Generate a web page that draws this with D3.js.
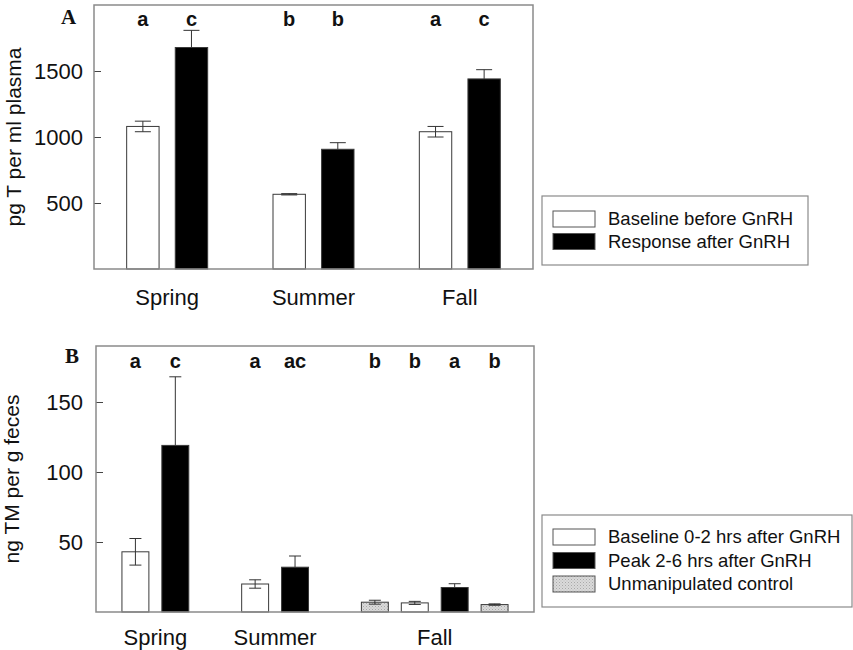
<!DOCTYPE html>
<html>
<head>
<meta charset="utf-8">
<script src="https://cdn.jsdelivr.net/npm/d3@7"></script>
<style>
    body { margin: 0; background: #fff; }
    text { font-family: "Liberation Sans", Arial, sans-serif; fill: #111; }
</style>
</head>
<body>
<svg id="chart" width="853" height="650"></svg>
<script>
// panel A - plasma T
var seasons = ['Spring', 'Summer', 'Fall'];
var baselineA = [1080, 566, 1040];
var baselineErrA = [40, 5, 40];
var responseA = [1678, 907, 1440];
var responseErrA = [130, 50, 70];
var lettersA = [['a', 'c'], ['b', 'b'], ['a', 'c']];
var ticksA = [500, 1000, 1500];
var legendA = ['Baseline before GnRH', 'Response after GnRH'];

// panel B - fecal TM
var barSeasonB = ['Spring', 'Spring', 'Summer', 'Summer', 'Fall', 'Fall', 'Fall', 'Fall'];
var barTypeB = ['baseline', 'peak', 'baseline', 'peak', 'control', 'baseline', 'peak', 'control'];
var valuesB = [43, 119, 20, 32, 7, 6.5, 17.5, 5.3];
var errorsB = [9.5, 49, 3, 8, 1.4, 1.1, 2.7, 0.5];
var lettersB = ['a', 'c', 'a', 'ac', 'b', 'b', 'a', 'b'];
var ticksB = [50, 100, 150];
var legendB = ['Baseline 0-2 hrs after GnRH', 'Peak 2-6 hrs after GnRH', 'Unmanipulated control'];

var svg = d3.select('#chart');

var defs = svg.append('defs');
var stipple = defs.append('pattern')
    .attr('id', 'stipple')
    .attr('width', 3)
    .attr('height', 3)
    .attr('patternUnits', 'userSpaceOnUse');
stipple.append('rect').attr('width', 3).attr('height', 3).attr('fill', '#dadada');
stipple.append('rect').attr('x', 0).attr('y', 0).attr('width', 1).attr('height', 1).attr('fill', '#a9a9a9');
stipple.append('rect').attr('x', 1.5).attr('y', 1.5).attr('width', 1).attr('height', 1).attr('fill', '#bdbdbd');

var fills = {
    baseline: '#ffffff',
    response: '#000000',
    peak: '#000000',
    control: 'url(#stipple)'
};
var isDark = function(type) { return type === 'response' || type === 'peak'; };

var drawBars = function(g, bars, y, capWidth)
{
    var bar = g.selectAll('.bar').data(bars).enter()
        .append('g')
        .classed('bar', true);

    bar.append('rect')
        .attr('x', function(d) { return d.x; })
        .attr('width', function(d) { return d.width; })
        .attr('y', function(d) { return y(d.value); })
        .attr('height', function(d) { return y(0) - y(d.value); })
        .attr('fill', function(d) { return fills[d.type]; })
        .attr('stroke', '#3a3a3a')
        .attr('stroke-width', 1);

    // error bars, the lower half disappears inside the black bars
    bar.append('line')
        .attr('x1', function(d) { return d.x + d.width / 2; })
        .attr('x2', function(d) { return d.x + d.width / 2; })
        .attr('y1', function(d) { return y(isDark(d.type) ? d.value : d.value - d.err); })
        .attr('y2', function(d) { return y(d.value + d.err); })
        .attr('stroke', '#333')
        .attr('stroke-width', 1);

    [1, -1].forEach(function(sign)
    {
        bar.filter(function(d) { return sign > 0 || !isDark(d.type); })
            .append('line')
            .attr('x1', function(d) { return d.x + d.width / 2 - capWidth / 2; })
            .attr('x2', function(d) { return d.x + d.width / 2 + capWidth / 2; })
            .attr('y1', function(d) { return y(d.value + sign * d.err); })
            .attr('y2', function(d) { return y(d.value + sign * d.err); })
            .attr('stroke', '#333')
            .attr('stroke-width', 1);
    });
};

var drawLetters = function(g, bars, baseline)
{
    g.selectAll('.letter').data(bars).enter()
        .append('text')
        .classed('letter', true)
        .attr('x', function(d) { return d.x + d.width / 2; })
        .attr('y', baseline)
        .attr('text-anchor', 'middle')
        .attr('font-size', '20px')
        .attr('font-weight', 'bold')
        .text(function(d) { return d.letter; });
};

var drawAxis = function(g, y, ticks, left, padding)
{
    var axis = g.append('g')
        .attr('transform', 'translate(' + left + ',0)')
        .call(d3.axisLeft(y).tickValues(ticks).tickFormat(d3.format('d')).tickSize(-7).tickPadding(padding));

    axis.select('.domain').remove();
    axis.selectAll('line').attr('stroke', '#444');
    axis.selectAll('text')
        .attr('font-size', '22px')
        .style('font-family', '"Liberation Sans", Arial, sans-serif')
        .attr('fill', '#111');
};

var drawFrame = function(g, frame)
{
    g.append('rect')
        .attr('x', frame.left)
        .attr('y', frame.top)
        .attr('width', frame.right - frame.left)
        .attr('height', frame.bottom - frame.top)
        .attr('fill', 'none')
        .attr('stroke', '#8a8a8a')
        .attr('stroke-width', 1.5);
};

var drawLegend = function(g, box, labels, types)
{
    g.append('rect')
        .attr('x', box.x)
        .attr('y', box.y)
        .attr('width', box.w)
        .attr('height', box.h)
        .attr('fill', '#fff')
        .attr('stroke', '#8a8a8a')
        .attr('stroke-width', 1.2);

    var item = g.selectAll('.legend-item').data(labels).enter()
        .append('g')
        .classed('legend-item', true)
        .attr('transform', function(d, i) { return 'translate(' + (box.x + 11) + ',' + (box.first + i * box.step) + ')'; });

    item.append('rect')
        .attr('width', 42)
        .attr('height', 16)
        .attr('fill', function(d, i) { return fills[types[i]]; })
        .attr('stroke', '#555')
        .attr('stroke-width', 1);

    item.append('text')
        .attr('x', 55)
        .attr('y', 14)
        .attr('font-size', '18.5px')
        .text(function(d) { return d; });
};

var drawTitle = function(g, text, x, y)
{
    g.append('text')
        .attr('transform', 'translate(' + x + ',' + y + ') rotate(-90)')
        .attr('text-anchor', 'middle')
        .attr('font-size', '21px')
        .text(text);
};

var drawPanelLabel = function(g, text, x, y)
{
    g.append('text')
        .attr('x', x)
        .attr('y', y)
        .style('font-family', '"Liberation Serif", "Times New Roman", serif')
        .attr('font-weight', 'bold')
        .attr('font-size', '21px')
        .text(text);
};

// ---------- panel A ----------
var gA = svg.append('g');
var frameA = {left: 94, right: 533, top: 5, bottom: 269};
var yA = d3.scaleLinear().domain([0, 2000]).range([frameA.bottom, frameA.top]);
var x0A = d3.scaleBand().domain(seasons).range([frameA.left, frameA.right]);
var x1A = d3.scaleBand().domain(['baseline', 'response']).range([0, 81]).paddingInner(1 / 3);
var innerOffsetA = (x0A.bandwidth() - 81) / 2;

var barsA = [];
seasons.forEach(function(season, i)
{
    barsA.push({season: season, type: 'baseline', value: baselineA[i], err: baselineErrA[i], letter: lettersA[i][0]});
    barsA.push({season: season, type: 'response', value: responseA[i], err: responseErrA[i], letter: lettersA[i][1]});
});
barsA.forEach(function(b)
{
    b.x = x0A(b.season) + innerOffsetA + x1A(b.type);
    b.width = x1A.bandwidth();
});

drawBars(gA, barsA, yA, 16);
drawLetters(gA, barsA, 26);
drawAxis(gA, yA, ticksA, frameA.left, 11);

gA.selectAll('.season').data(seasons).enter()
    .append('text')
    .classed('season', true)
    .attr('x', function(d) { return x0A(d) + x0A.bandwidth() / 2; })
    .attr('y', 305)
    .attr('text-anchor', 'middle')
    .attr('font-size', '22px')
    .text(function(d) { return d; });

drawFrame(gA, frameA);
drawTitle(gA, 'pg T per ml plasma', 21, (frameA.top + frameA.bottom) / 2);
drawPanelLabel(gA, 'A', 61, 24);
drawLegend(gA, {x: 542, y: 196, w: 266, h: 69, first: 211, step: 22.5}, legendA, ['baseline', 'response']);

// ---------- panel B ----------
var gB = svg.append('g');
var frameB = {left: 96, right: 534, top: 346, bottom: 612};
var yB = d3.scaleLinear().domain([0, 190]).range([frameB.bottom, frameB.top]);

// one empty slot between seasons
var slots = [];
var slot = 0;
barSeasonB.forEach(function(season, i)
{
    if(i > 0 && season !== barSeasonB[i - 1])
    {
        slot += 1;
    }
    slots.push(slot);
    slot += 1;
});
var xB = d3.scaleBand()
    .domain(d3.range(slot))
    .range([frameB.left, frameB.right])
    .paddingInner(0.325)
    .paddingOuter(0.65);

var barsB = valuesB.map(function(v, i)
{
    return {
        season: barSeasonB[i],
        type: barTypeB[i],
        value: v,
        err: errorsB[i],
        letter: lettersB[i],
        x: xB(slots[i]),
        width: xB.bandwidth()
    };
});

drawBars(gB, barsB, yB, 12);
drawLetters(gB, barsB, 368);
drawAxis(gB, yB, ticksB, frameB.left, 13);

gB.selectAll('.season').data(seasons).enter()
    .append('text')
    .classed('season', true)
    .attr('x', function(season)
    {
        var own = barsB.filter(function(b) { return b.season === season; });
        return d3.mean(own, function(b) { return b.x + b.width / 2; });
    })
    .attr('y', 645)
    .attr('text-anchor', 'middle')
    .attr('font-size', '22px')
    .text(function(d) { return d; });

drawFrame(gB, frameB);
drawTitle(gB, 'ng TM per g feces', 19, (frameB.top + frameB.bottom) / 2);
drawPanelLabel(gB, 'B', 65, 363);
drawLegend(gB, {x: 542, y: 515, w: 310, h: 92, first: 529, step: 23.5}, legendB, ['baseline', 'peak', 'control']);
</script>
</body>
</html>
